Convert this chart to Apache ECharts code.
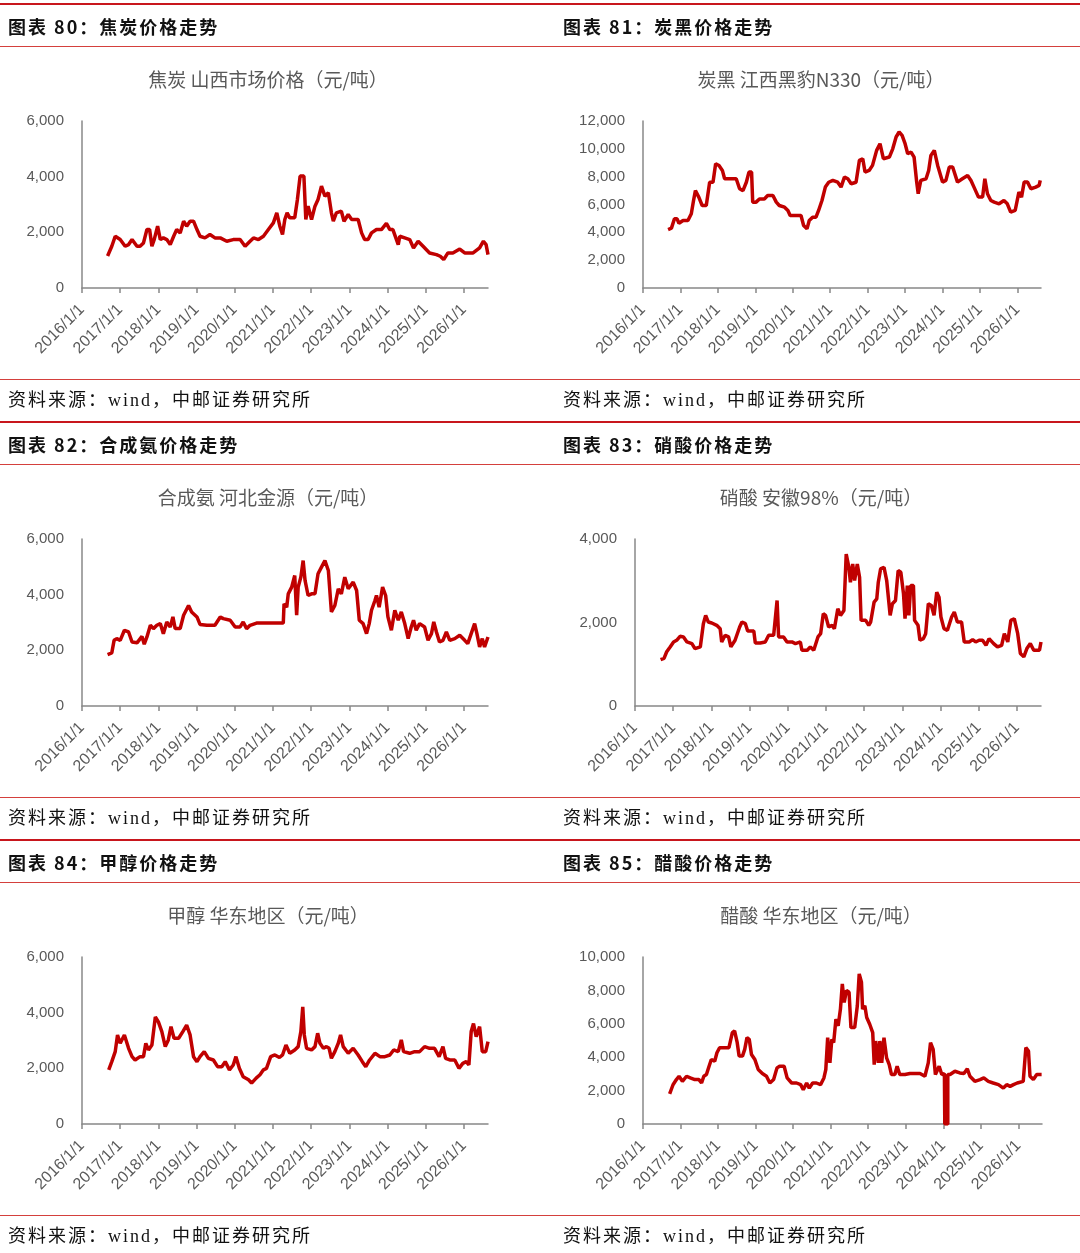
<!DOCTYPE html>
<html>
<head>
<meta charset="utf-8">
<script src="https://cdn.jsdelivr.net/npm/echarts@6.0.0/dist/echarts.min.js"></script>
<style>
  body { margin: 0; background: #fff; }
  #page { position: relative; width: 1080px; height: 1253px; overflow: hidden; font-family: "Noto Sans CJK SC", sans-serif; }
  #chart { position: absolute; left: 0; top: 0; width: 1080px; height: 1253px; }
  .rule { position: absolute; left: 0; width: 1080px; }
  .thick { height: 2px; background: #c8161d; }
  .thin { height: 1px; background: #d4403d; }
  .head { position: absolute; font-size: 18px; font-weight: bold; letter-spacing: 2px; color: #111; line-height: 20px; white-space: nowrap; }
  .src { position: absolute; font-size: 18px; letter-spacing: 2px; color: #111; line-height: 20px; white-space: nowrap;
         font-family: "Liberation Serif", "Noto Sans CJK SC", serif; }
</style>
</head>
<body>
<div id="page">
  <div id="chart"></div>
</div>
<script>
// 横轴刻度（年份），数据横坐标为小数年份
var yearTicks = [2016, 2017, 2018, 2019, 2020, 2021, 2022, 2023, 2024, 2025, 2026];

var headers = ['图表 80：焦炭价格走势', '图表 81：炭黑价格走势', '图表 82：合成氨价格走势',
               '图表 83：硝酸价格走势', '图表 84：甲醇价格走势', '图表 85：醋酸价格走势'];
var chartTitles = ['焦炭 山西市场价格（元/吨）', '炭黑 江西黑豹N330（元/吨）', '合成氨 河北金源（元/吨）',
                   '硝酸 安徽98%（元/吨）', '甲醇 华东地区（元/吨）', '醋酸 华东地区（元/吨）'];
var sourceText = '资料来源：wind，中邮证券研究所';
var yMax = [6000, 12000, 6000, 4000, 6000, 10000];

// 焦炭 山西
var cokePrice = [[2016.67,1150],[2016.78,1500],[2016.87,1860],[2016.91,1920],[2017.00,1740],[2017.13,1500],[2017.22,1560],[2017.31,1740],[2017.35,1680],[2017.44,1500],[2017.52,1500],[2017.61,1620],[2017.70,2100],[2017.77,2100],[2017.83,1500],[2017.89,1740],[2017.98,2220],[2018.05,1740],[2018.13,1800],[2018.22,1740],[2018.31,1560],[2018.40,1860],[2018.48,2100],[2018.57,1980],[2018.66,2400],[2018.74,2220],[2018.83,2400],[2018.92,2400],[2019.01,2100],[2019.09,1860],[2019.22,1800],[2019.35,1920],[2019.48,1800],[2019.62,1800],[2019.79,1680],[2019.96,1740],[2020.14,1740],[2020.27,1500],[2020.40,1680],[2020.49,1800],[2020.62,1740],[2020.75,1860],[2020.88,2100],[2021.01,2340],[2021.10,2700],[2021.18,2220],[2021.25,1920],[2021.31,2460],[2021.37,2700],[2021.44,2520],[2021.57,2520],[2021.64,3180],[2021.71,4020],[2021.81,4020],[2021.86,2460],[2021.92,2940],[2022.01,2460],[2022.10,2940],[2022.18,3180],[2022.27,3660],[2022.36,3300],[2022.45,3420],[2022.53,2700],[2022.58,2400],[2022.66,2700],[2022.79,2760],[2022.86,2400],[2022.97,2640],[2023.06,2460],[2023.23,2460],[2023.32,1980],[2023.40,1740],[2023.49,1740],[2023.58,1980],[2023.71,2100],[2023.84,2100],[2023.97,2320],[2024.06,2100],[2024.14,2100],[2024.28,1560],[2024.32,1860],[2024.45,1800],[2024.58,1740],[2024.68,1440],[2024.80,1680],[2024.93,1500],[2025.10,1260],[2025.28,1200],[2025.38,1140],[2025.47,1020],[2025.58,1260],[2025.71,1260],[2025.89,1400],[2026.02,1260],[2026.24,1260],[2026.41,1440],[2026.51,1680],[2026.58,1560],[2026.63,1200]];

// 炭黑 江西黑豹N330
var carbonBlackPrice = [[2016.67,4200],[2016.76,4300],[2016.84,4970],[2016.91,4970],[2016.96,4650],[2017.07,4850],[2017.20,4850],[2017.29,5330],[2017.35,6290],[2017.40,7000],[2017.49,6530],[2017.58,5930],[2017.69,5930],[2017.78,7600],[2017.87,7600],[2017.94,8930],[2018.03,8800],[2018.12,8450],[2018.18,7850],[2018.31,7850],[2018.49,7850],[2018.58,7130],[2018.67,7000],[2018.76,7600],[2018.83,8330],[2018.90,8330],[2018.93,6170],[2019.02,6170],[2019.11,6400],[2019.24,6400],[2019.33,6650],[2019.47,6650],[2019.56,6170],[2019.64,5930],[2019.78,5810],[2019.87,5570],[2019.93,5210],[2020.09,5210],[2020.22,5210],[2020.29,4490],[2020.38,4250],[2020.44,4850],[2020.53,5090],[2020.62,5090],[2020.69,5570],[2020.78,6290],[2020.87,7250],[2020.96,7600],[2021.07,7730],[2021.20,7600],[2021.29,7250],[2021.38,7970],[2021.47,7850],[2021.56,7490],[2021.69,7600],[2021.78,9170],[2021.87,9290],[2021.93,8330],[2022.04,8450],[2022.13,8810],[2022.24,9890],[2022.33,10370],[2022.42,9290],[2022.58,9410],[2022.67,10000],[2022.76,10850],[2022.84,11210],[2022.92,10970],[2023.00,10370],[2023.07,9650],[2023.16,9770],[2023.24,9410],[2023.31,7610],[2023.35,6770],[2023.42,7730],[2023.56,7850],[2023.63,8450],[2023.69,9530],[2023.78,9890],[2023.87,8810],[2024.00,7610],[2024.09,7730],[2024.18,8690],[2024.27,8690],[2024.40,7610],[2024.53,7850],[2024.67,8090],[2024.76,7730],[2024.84,7250],[2024.96,6530],[2025.07,6530],[2025.13,7850],[2025.20,6770],[2025.29,6290],[2025.38,6170],[2025.51,6050],[2025.64,6290],[2025.73,6050],[2025.82,5450],[2025.94,5570],[2026.04,6890],[2026.11,6530],[2026.18,7610],[2026.27,7610],[2026.36,7130],[2026.49,7250],[2026.58,7370],[2026.61,7730]];

// 合成氨 河北金源
var ammoniaPrice = [[2016.67,1850],[2016.78,1910],[2016.84,2360],[2016.91,2420],[2017.00,2360],[2017.11,2720],[2017.22,2660],[2017.31,2300],[2017.44,2270],[2017.57,2500],[2017.63,2220],[2017.70,2480],[2017.79,2900],[2017.87,2780],[2017.96,2900],[2018.05,2960],[2018.13,2600],[2018.22,3020],[2018.31,2840],[2018.38,3200],[2018.44,2780],[2018.57,2780],[2018.66,3260],[2018.79,3610],[2018.87,3380],[2019.01,3200],[2019.09,2930],[2019.27,2900],[2019.48,2900],[2019.62,3200],[2019.70,3140],[2019.88,3080],[2020.01,2840],[2020.14,2840],[2020.22,3020],[2020.31,2780],[2020.40,2900],[2020.57,2980],[2021.27,2980],[2021.29,3670],[2021.36,3550],[2021.40,4030],[2021.49,4270],[2021.57,4690],[2021.62,3260],[2021.66,4270],[2021.73,4630],[2021.79,5225],[2021.84,4510],[2021.92,3970],[2022.01,4030],[2022.10,4030],[2022.18,4750],[2022.27,4990],[2022.36,5225],[2022.45,4870],[2022.53,3380],[2022.62,3610],[2022.71,4210],[2022.79,4030],[2022.88,4630],[2022.97,4210],[2023.10,4450],[2023.19,4150],[2023.26,3080],[2023.36,2960],[2023.45,2600],[2023.52,2960],[2023.58,3440],[2023.67,3790],[2023.71,3970],[2023.78,3550],[2023.87,4270],[2023.95,3970],[2024.01,3200],[2024.10,2720],[2024.19,3440],[2024.28,3080],[2024.36,3380],[2024.45,2960],[2024.54,2420],[2024.62,2840],[2024.68,3080],[2024.75,2720],[2024.84,2960],[2024.97,2840],[2025.06,2360],[2025.15,2600],[2025.21,3020],[2025.28,2660],[2025.36,2300],[2025.45,2360],[2025.54,2660],[2025.63,2360],[2025.76,2420],[2025.89,2540],[2026.02,2360],[2026.10,2240],[2026.19,2600],[2026.28,2960],[2026.34,2600],[2026.41,2120],[2026.48,2420],[2026.54,2120],[2026.63,2480]];

// 硝酸 安徽98%
var nitricAcidPrice = [[2016.67,1110],[2016.76,1140],[2016.83,1300],[2016.92,1415],[2017.01,1534],[2017.09,1574],[2017.18,1670],[2017.27,1654],[2017.36,1534],[2017.49,1495],[2017.57,1375],[2017.71,1415],[2017.79,1972],[2017.85,2170],[2017.92,2011],[2018.01,1988],[2018.14,1932],[2018.23,1852],[2018.27,1534],[2018.36,1693],[2018.45,1654],[2018.51,1415],[2018.62,1574],[2018.74,1892],[2018.80,2011],[2018.89,1972],[2018.95,1797],[2019.11,1797],[2019.15,1510],[2019.28,1510],[2019.41,1534],[2019.50,1693],[2019.63,1693],[2019.72,2528],[2019.76,1654],[2019.89,1654],[2019.98,1534],[2020.11,1534],[2020.20,1495],[2020.33,1534],[2020.37,1336],[2020.51,1336],[2020.59,1415],[2020.68,1336],[2020.79,1654],[2020.86,1733],[2020.93,2210],[2020.99,2170],[2021.07,1892],[2021.16,1932],[2021.22,1852],[2021.31,2329],[2021.38,2170],[2021.47,2290],[2021.53,3641],[2021.60,3323],[2021.64,2965],[2021.70,3403],[2021.75,3005],[2021.82,3403],[2021.88,3085],[2021.92,2051],[2022.04,2051],[2022.12,1932],[2022.17,2011],[2022.26,2488],[2022.33,2568],[2022.37,2965],[2022.43,3283],[2022.52,3323],[2022.59,3005],[2022.68,2170],[2022.74,2449],[2022.82,2528],[2022.89,3244],[2022.96,3204],[2023.03,2687],[2023.07,2091],[2023.13,2886],[2023.17,2170],[2023.22,2886],[2023.29,2886],[2023.32,2051],[2023.41,1932],[2023.46,1574],[2023.55,1614],[2023.61,1733],[2023.68,2449],[2023.76,2409],[2023.83,2170],[2023.90,2727],[2023.96,2608],[2024.01,2131],[2024.09,1852],[2024.18,1813],[2024.29,2131],[2024.36,2250],[2024.44,2011],[2024.55,2011],[2024.62,1534],[2024.75,1534],[2024.84,1590],[2024.92,1534],[2025.01,1574],[2025.10,1574],[2025.19,1455],[2025.27,1614],[2025.39,1495],[2025.49,1415],[2025.60,1455],[2025.67,1733],[2025.76,1534],[2025.84,2051],[2025.93,2091],[2026.02,1733],[2026.09,1256],[2026.18,1177],[2026.26,1375],[2026.35,1495],[2026.44,1336],[2026.59,1336],[2026.63,1534]];

// 甲醇 华东地区
var methanolPrice = [[2016.70,1945],[2016.78,2243],[2016.87,2600],[2016.93,3197],[2017.00,2900],[2017.11,3197],[2017.22,2720],[2017.31,2420],[2017.39,2300],[2017.52,2420],[2017.61,2420],[2017.67,2900],[2017.74,2660],[2017.83,2840],[2017.92,3850],[2018.00,3670],[2018.09,3320],[2018.18,2780],[2018.26,3020],[2018.33,3500],[2018.41,3080],[2018.53,3080],[2018.64,3320],[2018.74,3550],[2018.83,3200],[2018.92,2420],[2019.01,2240],[2019.09,2420],[2019.20,2600],[2019.31,2360],[2019.44,2300],[2019.55,2060],[2019.66,2060],[2019.75,2240],[2019.86,1945],[2019.96,2120],[2020.03,2420],[2020.12,2000],[2020.22,1700],[2020.36,1590],[2020.44,1470],[2020.56,1650],[2020.66,1770],[2020.75,1945],[2020.83,2000],[2020.94,2420],[2021.05,2480],[2021.17,2390],[2021.25,2480],[2021.34,2840],[2021.44,2540],[2021.57,2660],[2021.66,2780],[2021.73,3320],[2021.78,4210],[2021.82,3200],[2021.88,2720],[2022.01,2660],[2022.10,2780],[2022.17,3260],[2022.23,2900],[2022.32,2720],[2022.40,2780],[2022.47,2720],[2022.53,2360],[2022.62,2600],[2022.71,2900],[2022.77,3200],[2022.84,2780],[2022.97,2540],[2023.10,2720],[2023.23,2480],[2023.34,2240],[2023.43,2060],[2023.53,2300],[2023.67,2540],[2023.80,2420],[2023.93,2420],[2024.06,2480],[2024.16,2660],[2024.28,2600],[2024.36,3020],[2024.42,2600],[2024.58,2540],[2024.71,2600],[2024.84,2600],[2024.97,2780],[2025.10,2720],[2025.23,2720],[2025.35,2420],[2025.45,2780],[2025.52,2360],[2025.63,2300],[2025.76,2300],[2025.87,2000],[2025.97,2180],[2026.06,2240],[2026.13,2120],[2026.19,3320],[2026.25,3610],[2026.32,3140],[2026.41,3500],[2026.48,2600],[2026.57,2600],[2026.63,2960]];

// 醋酸 华东地区
var aceticAcidPrice = [[2016.71,1810],[2016.80,2350],[2016.89,2660],[2016.96,2860],[2017.05,2555],[2017.16,2860],[2017.26,2760],[2017.38,2660],[2017.49,2660],[2017.56,2455],[2017.62,2860],[2017.69,2960],[2017.76,3460],[2017.82,3860],[2017.91,3760],[2017.97,4265],[2018.04,4570],[2018.18,4570],[2018.29,4570],[2018.38,5470],[2018.44,5570],[2018.51,4870],[2018.56,4065],[2018.65,4065],[2018.71,4470],[2018.77,5170],[2018.83,5070],[2018.89,4165],[2018.98,3860],[2019.07,3260],[2019.18,3020],[2019.29,2860],[2019.38,2455],[2019.48,2660],[2019.57,3360],[2019.64,3460],[2019.76,3460],[2019.84,2760],[2019.96,2455],[2020.09,2455],[2020.20,2355],[2020.27,2050],[2020.36,2455],[2020.43,2150],[2020.52,2455],[2020.62,2455],[2020.73,2355],[2020.82,2760],[2020.87,3260],[2020.92,5170],[2020.98,3660],[2021.03,5070],[2021.08,4870],[2021.14,6280],[2021.20,5875],[2021.26,6880],[2021.31,8390],[2021.36,7280],[2021.42,7990],[2021.49,7890],[2021.54,5775],[2021.64,5775],[2021.71,7080],[2021.76,8990],[2021.82,8490],[2021.85,6880],[2021.91,7080],[2021.96,6380],[2022.04,5975],[2022.12,5470],[2022.16,3560],[2022.20,4970],[2022.27,3660],[2022.31,4970],[2022.36,3660],[2022.42,5170],[2022.49,3960],[2022.56,3560],[2022.62,2960],[2022.71,2960],[2022.77,3460],[2022.84,2960],[2022.98,2960],[2023.11,3020],[2023.24,3020],[2023.38,3020],[2023.51,2860],[2023.60,3660],[2023.66,4870],[2023.73,4470],[2023.79,2960],[2023.89,3460],[2023.96,2960],[2024.03,3020],[2024.04,0],[2024.08,0],[2024.12,0],[2024.12,2960],[2024.18,2960],[2024.31,3160],[2024.44,3060],[2024.55,3020],[2024.64,3300],[2024.71,2860],[2024.84,2555],[2024.98,2660],[2025.08,2760],[2025.20,2555],[2025.33,2455],[2025.47,2355],[2025.60,2150],[2025.69,2355],[2025.78,2250],[2025.87,2355],[2025.97,2455],[2026.13,2555],[2026.20,4570],[2026.27,4365],[2026.31,2860],[2026.40,2660],[2026.49,2960],[2026.62,2960]];

var seriesData = [cokePrice, carbonBlackPrice, ammoniaPrice, nitricAcidPrice, methanolPrice, aceticAcidPrice];

// 版面：三行两列
var rowTop = [0, 418, 836];
var colText = [8, 563];
var titleCenter = [263, 816];
var gridLeft = [[82, 643], [82, 635], [82, 643]];
var gridWidth = [[406, 398], [406, 406], [406, 399]];

var page = document.getElementById('page');
function addDiv(cls, top, left, text) {
    var d = document.createElement('div');
    d.className = cls;
    d.style.top = top + 'px';
    if (left !== null) d.style.left = left + 'px';
    if (text) d.textContent = text;
    page.appendChild(d);
}
for (var r = 0; r < 3; r++) {
    var y0 = rowTop[r];
    addDiv('rule thick', y0 + 3, null);
    addDiv('rule thin', y0 + 46, null);
    addDiv('rule thin', y0 + 379, null);
    for (var c = 0; c < 2; c++) {
        addDiv('head', y0 + 16, colText[c], headers[r * 2 + c]);
        addDiv('src', y0 + 390, colText[c], sourceText);
    }
}

var axisColor = '#888888';
var labelColor = '#595959';
var titles = [], grids = [], xAxes = [], yAxes = [], series = [];
for (var i = 0; i < 6; i++) {
    var row = Math.floor(i / 2), col = i % 2;
    var y0 = rowTop[row];
    titles.push({
        text: chartTitles[i],
        left: titleCenter[col],
        top: y0 + 65,
        textAlign: 'center',
        textStyle: { color: labelColor, fontSize: 19, fontWeight: 'normal', fontFamily: 'Noto Sans CJK SC' }
    });
    grids.push({ left: gridLeft[row][col], top: y0 + 121, width: gridWidth[row][col], height: 167 });
    xAxes.push({
        type: 'value', gridIndex: i, min: 2016, max: 2026.63,
        axisLine: { show: true, lineStyle: { color: axisColor, width: 1.5 } },
        axisTick: { show: true, length: 5, customValues: yearTicks, lineStyle: { color: axisColor, width: 1.5 } },
        axisLabel: {
            customValues: yearTicks, rotate: 45, margin: 19,
            color: labelColor, fontSize: 16, fontFamily: 'Liberation Sans',
            formatter: function (v) { return v + '/1/1'; }
        },
        splitLine: { show: false }
    });
    yAxes.push({
        type: 'value', gridIndex: i, min: 0, max: yMax[i], interval: 2000,
        axisLine: { show: true, lineStyle: { color: axisColor, width: 1.5 } },
        axisTick: { show: false },
        axisLabel: {
            margin: 18, color: labelColor, fontSize: 15, fontFamily: 'Liberation Sans',
            formatter: function (v) { return v.toLocaleString('en-US'); }
        },
        splitLine: { show: false }
    });
    series.push({
        type: 'line', xAxisIndex: i, yAxisIndex: i,
        data: seriesData[i], showSymbol: false, animation: false,
        lineStyle: { color: '#c00000', width: 3.5 }
    });
}

var chart = echarts.init(document.getElementById('chart'));
chart.setOption({
    backgroundColor: '#fff',
    animation: false,
    title: titles,
    grid: grids,
    xAxis: xAxes,
    yAxis: yAxes,
    series: series
});
</script>
</body>
</html>
